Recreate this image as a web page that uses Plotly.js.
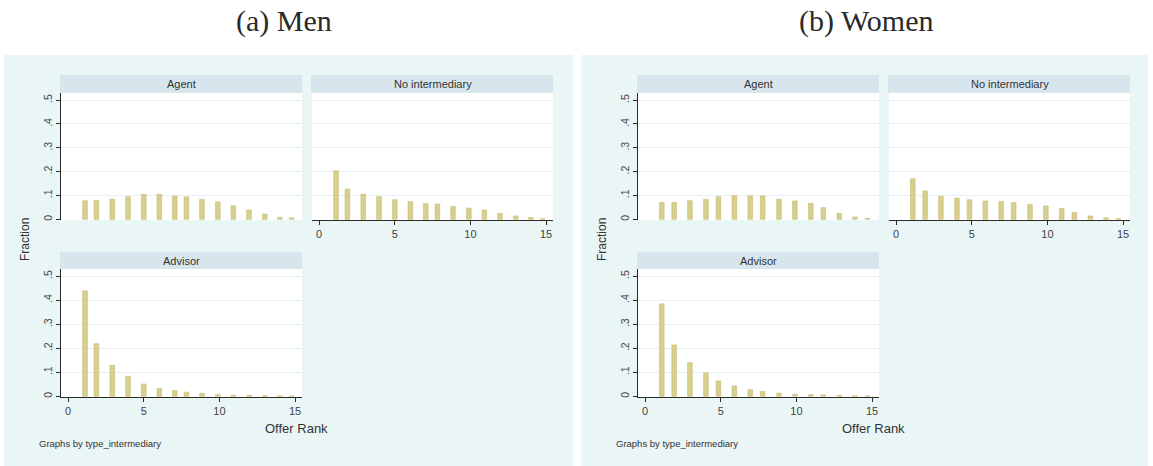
<!DOCTYPE html>
<html>
<head>
<meta charset="utf-8">
<script src="https://cdn.plot.ly/plotly-3.0.1.min.js"></script>
<style>html,body{margin:0;padding:0;background:#fff;}#chart{width:1153px;height:466px;}</style>
</head>
<body>
<div id="chart"></div>
<script>
// ---- Data ----
const binsMen   = [1.12, 1.87, 2.92, 3.96, 5.0, 6.03, 7.05, 7.82, 8.85, 9.9, 10.92, 11.96, 13.0, 14.0, 14.78];
const binsWomen = [1.1, 1.92, 2.96, 4.02, 4.85, 5.9, 6.95, 7.77, 8.85, 9.9, 10.95, 11.78, 12.84, 13.87, 14.7];

const menAgent     = [0.078,0.078,0.085,0.095,0.105,0.105,0.098,0.094,0.084,0.073,0.057,0.039,0.022,0.008,0.006];
const menNoInt     = [0.204,0.127,0.106,0.095,0.082,0.074,0.066,0.064,0.054,0.047,0.039,0.025,0.014,0.007,0.003];
const menAdvisor   = [0.439,0.219,0.129,0.083,0.051,0.033,0.024,0.017,0.012,0.007,0.005,0.004,0.003,0.002,0.001];
const womenAgent   = [0.071,0.071,0.078,0.084,0.095,0.099,0.098,0.098,0.084,0.077,0.067,0.049,0.025,0.010,0.004];
const womenNoInt   = [0.170,0.119,0.096,0.089,0.082,0.077,0.075,0.070,0.063,0.056,0.045,0.028,0.014,0.006,0.003];
const womenAdvisor = [0.385,0.214,0.140,0.098,0.064,0.043,0.028,0.020,0.013,0.008,0.007,0.006,0.004,0.002,0.001];

const yTickVals = [0, 0.1, 0.2, 0.3, 0.4, 0.5];
const yTickText = ['0', '.1', '.2', '.3', '.4', '.5'];
const xTickVals = [0, 5, 10, 15];
const xTickText = ['0', '5', '10', '15'];
const panelTitles = ['(a) Men', '(b) Women'];
const facetNames = ['Agent', 'No intermediary', 'Advisor'];

// ---- Layout helpers ----
const W = 1153, H = 466;
const px = x => x / W;
const py = y => 1 - y / H;

const panels = [
  {x0: 4, x1: 573, cols: [[61, 302], [312, 553]], bins: binsMen, series: [menAgent, menNoInt, menAdvisor], titleX: 284},
  {x0: 581, x1: 1148, cols: [[638, 879], [889, 1130]], bins: binsWomen, series: [womenAgent, womenNoInt, womenAdvisor], titleX: 866}
];
const rows = [{hdr: [75, 93], plot: [93, 220]}, {hdr: [252, 269], plot: [269, 397]}];
// facet placement: [col,row]
const facetPos = [[0, 0], [1, 0], [0, 1]];

const traces = [];
const layout = {
  width: W, height: H,
  margin: {l: 0, r: 0, t: 0, b: 0},
  paper_bgcolor: '#ffffff',
  plot_bgcolor: 'rgba(0,0,0,0)',
  showlegend: false,
  bargap: 0,
  shapes: [],
  annotations: [],
  font: {family: 'Liberation Sans, Arial, sans-serif', color: '#333'}
};

let k = 0;
panels.forEach((p, pi) => {
  // panel background
  layout.shapes.push({type: 'rect', xref: 'paper', yref: 'paper', layer: 'below',
    x0: px(p.x0), x1: px(p.x1), y0: py(466), y1: py(55),
    fillcolor: '#eaf5f6', line: {width: 0}});
  // title
  layout.annotations.push({xref: 'paper', yref: 'paper', x: px(p.titleX), y: py(21),
    text: panelTitles[pi], showarrow: false, xanchor: 'center', yanchor: 'middle',
    font: {family: 'Liberation Serif, Times New Roman, serif', size: 30, color: '#2a2a2a'}});
  facetPos.forEach((fp, fi) => {
    k++;
    const col = p.cols[fp[0]], row = rows[fp[1]];
    const xa = 'xaxis' + (k === 1 ? '' : k), ya = 'yaxis' + (k === 1 ? '' : k);
    const xr = 'x' + (k === 1 ? '' : k), yr = 'y' + (k === 1 ? '' : k);
    // white plot region
    layout.shapes.push({type: 'rect', xref: 'paper', yref: 'paper', layer: 'below',
      x0: px(col[0]), x1: px(col[1]), y0: py(row.plot[1]), y1: py(row.plot[0]),
      fillcolor: '#ffffff', line: {width: 0}});
    // header strip
    layout.shapes.push({type: 'rect', xref: 'paper', yref: 'paper', layer: 'below',
      x0: px(col[0] - 1), x1: px(col[1]), y0: py(row.hdr[1]), y1: py(row.hdr[0]),
      fillcolor: '#d7e6ed', line: {width: 0}});
    layout.annotations.push({xref: 'paper', yref: 'paper', x: px((col[0] + col[1]) / 2), y: py((row.hdr[0] + row.hdr[1]) / 2),
      text: facetNames[fi], showarrow: false, xanchor: 'center', yanchor: 'middle',
      font: {size: 11, color: '#333'}});
    const showY = fp[0] === 0;
    const showX = fi !== 0;
    layout[xa] = {
      domain: [px(col[0]), px(col[1])], anchor: yr, range: [-0.47, 15.46],
      showgrid: false, zeroline: false,
      showline: showX, linecolor: '#2a2a2a', linewidth: 1,
      ticks: showX ? 'outside' : '', ticklen: 4, tickcolor: '#2a2a2a',
      showticklabels: showX, tickvals: xTickVals, ticktext: xTickText,
      tickfont: {size: 11, color: '#444'}, fixedrange: true
    };
    layout[ya] = {
      domain: [py(row.plot[1]), py(row.plot[0])], anchor: xr, range: [-0.003, 0.53],
      showgrid: true, gridcolor: '#e6eff1', gridwidth: 1, zeroline: false,
      showline: showY, linecolor: '#2a2a2a', linewidth: 1,
      ticks: showY ? 'outside' : '', ticklen: 4, tickcolor: '#2a2a2a',
      showticklabels: showY, tickvals: yTickVals, ticktext: yTickText, tickangle: -90,
      tickfont: {size: 10.5, color: '#444'}, fixedrange: true
    };
    traces.push({type: 'bar', x: p.bins, y: p.series[fi], xaxis: xr, yaxis: yr,
      width: 0.31, marker: {color: '#d8cf8e', line: {color: '#c7bc74', width: 0.6}},
      hoverinfo: 'skip'});
  });
  // axis labels
  layout.annotations.push({xref: 'paper', yref: 'paper', x: px(p.x0 + 21), y: py(240),
    text: 'Fraction', textangle: -90, showarrow: false, xanchor: 'center', yanchor: 'middle',
    font: {size: 12, color: '#333'}});
  layout.annotations.push({xref: 'paper', yref: 'paper', x: px(p.cols[0][1] - 6), y: py(428),
    text: 'Offer Rank', showarrow: false, xanchor: 'center', yanchor: 'middle',
    font: {size: 13, color: '#333'}});
  layout.annotations.push({xref: 'paper', yref: 'paper', x: px(p.x0 + 33), y: py(443),
    text: 'Graphs by type_intermediary', showarrow: false, xanchor: 'left', yanchor: 'middle',
    font: {size: 9.5, color: '#333'}});
});

Plotly.newPlot('chart', traces, layout, {staticPlot: true, displayModeBar: false});
</script>
</body>
</html>
